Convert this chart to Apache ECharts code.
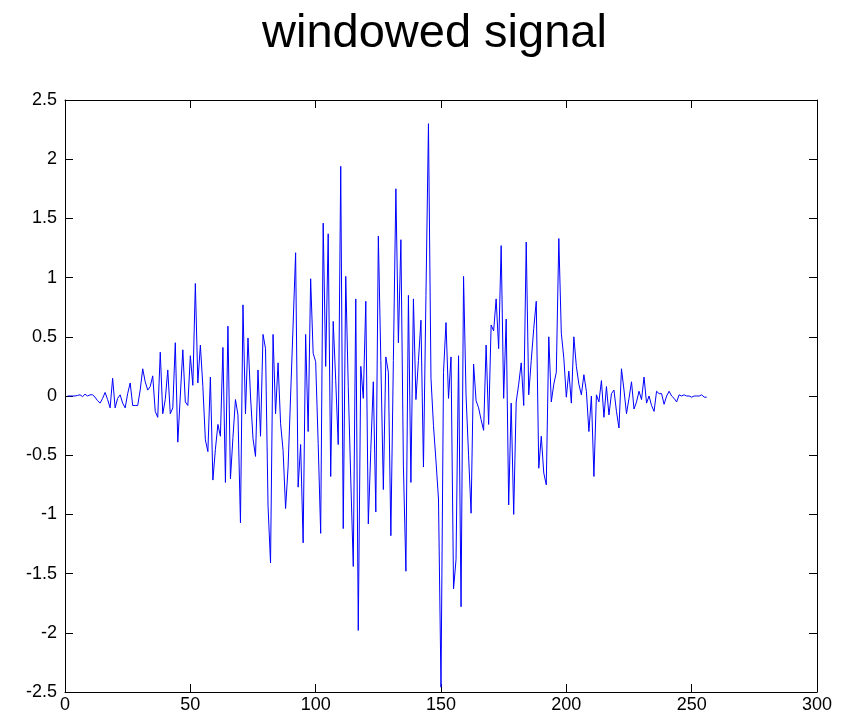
<!DOCTYPE html>
<html>
<head>
<meta charset="utf-8">
<script src="https://cdn.jsdelivr.net/npm/echarts@6/dist/echarts.min.js"></script>
<style>html,body{margin:0;padding:0;background:#fff}#c{width:852px;height:723px}</style>
</head>
<body>
<div id="c"></div>
<script>
const titleText = "windowed signal";
const xTicks = [0, 50, 100, 150, 200, 250, 300];
const yTicks = [-2.5, -2, -1.5, -1, -0.5, 0, 0.5, 1, 1.5, 2, 2.5];
const signal = [
  0, 0, 0, 0, 0.005, 0.01, -0.005, 0.015, 0, 0.01,
  0.01, -0.01, -0.04, -0.06, -0.02, 0.03, -0.03, -0.1, 0.15, -0.1,
  -0.02, 0.01, -0.06, -0.1, 0.02, 0.11, -0.08, -0.08, -0.08, 0.05,
  0.23, 0.12, 0.05, 0.08, 0.17, -0.13, -0.18, 0.37, -0.15, -0.03,
  0.22, -0.15, -0.1, 0.45, -0.39, 0.0, 0.39, -0.05, -0.08, 0.34,
  0.09, 0.95, 0.11, 0.43, 0.08, -0.37, -0.47, 0.16, -0.71, -0.45,
  -0.24, -0.34, 0.41, -0.73, 0.59, -0.7, -0.35, -0.03, -0.16, -1.07,
  0.77, -0.15, 0.49, 0.0, -0.36, -0.51, 0.22, -0.34, 0.52, 0.4,
  -0.93, -1.41, 0.52, -0.15, 0.28, -0.23, -0.46, -0.95, -0.6, 0.0,
  0.6, 1.21, -0.77, -0.41, -1.24, 0.52, -0.3, 0.99, 0.36, 0.29,
  -0.4, -1.16, 1.46, 0.25, 1.37, -0.68, 0.63, 0.13, -0.41, 1.94,
  -1.12, 1.01, 0.08, -0.7, -1.44, 0.82, -1.98, 0.25, -0.02, 0.8,
  -1.08, -0.45, 0.12, -0.98, 1.35, 0.3, -0.79, 0.33, 0.2, -1.18,
  0.3, 1.75, 0.45, 1.32, -0.59, -1.48, 0.85, -0.73, 0.82, -0.03,
  0.3, 0.64, -0.6, 0.85, 2.3, 0.15, -0.25, -0.55, -0.87, -2.46,
  0.2, 0.62, -0.02, 0.33, -1.63, -1.38, 0.34, -1.78, 1.01, 0.0,
  -0.5, -0.99, 0.27, -0.04, -0.1, -0.2, -0.29, 0.43, -0.24, 0.6,
  0.55, 0.82, 0.4, 1.27, -0.02, 0.65, -0.92, -0.06, -1.0, -0.05,
  0.1, 0.28, -0.08, 1.3, 0.01, 0.3, 0.57, 0.8, -0.61, -0.34,
  -0.65, -0.75, 0.5, -0.05, 0.1, 0.2, 1.33, 0.53, 0.32, -0.01,
  0.21, -0.06, 0.5, 0.25, 0.1, 0.01, 0.18, 0.04, -0.3, 0.0,
  -0.68, 0.01, -0.05, 0.13, -0.18, 0.08, -0.16, 0.02, 0.05, -0.13,
  -0.27, 0.23, 0.05, -0.15, -0.02, 0.12, -0.11, -0.05, 0.04, -0.03,
  0.16, -0.06, 0.0, -0.08, -0.13, 0.04, 0.02, 0.02, -0.07, 0.0,
  0.04, 0.0, -0.02, -0.05, 0.01, 0.0, 0.01, 0.0, 0.0, -0.01,
  0.0, 0.0, 0.0, 0.01, -0.01, -0.01
];

const points = signal.map((v, i) => [i + 1, v]);
const font = 'Liberation Sans, Arial, sans-serif';
const fmtY = v => String(v);

const chart = echarts.init(document.getElementById('c'), null, {renderer: 'canvas'});
function axis(extra) {
  return Object.assign({
    axisLine: {show: true, onZero: false, lineStyle: {color: '#000', width: 1}},
    axisTick: {show: true, inside: true, length: 8, lineStyle: {color: '#000', width: 1}},
    splitLine: {show: false}
  }, extra);
}
chart.setOption({
  animation: false,
  backgroundColor: '#fff',
  title: {
    text: titleText, left: 257, top: 6,
    textStyle: {fontFamily: font, fontSize: 47, fontWeight: 'normal', color: '#000'}
  },
  grid: {left: 65, right: 35, top: 100, bottom: 31, containLabel: false},
  xAxis: [
    axis({
      type: 'value', position: 'bottom', min: xTicks[0], max: xTicks[xTicks.length - 1], interval: 50,
      axisLabel: {fontFamily: font, fontSize: 18, color: '#000', margin: 4}
    }),
    axis({
      type: 'value', position: 'top', min: xTicks[0], max: xTicks[xTicks.length - 1], interval: 50,
      axisLabel: {show: false}
    })
  ],
  yAxis: [
    axis({
      type: 'value', position: 'left', min: yTicks[0], max: yTicks[yTicks.length - 1], interval: 0.5,
      axisLabel: {fontFamily: font, fontSize: 18, color: '#000', margin: 8, formatter: fmtY}
    }),
    axis({
      type: 'value', position: 'right', min: yTicks[0], max: yTicks[yTicks.length - 1], interval: 0.5,
      axisLabel: {show: false}
    })
  ],
  series: [{
    type: 'line', data: points, xAxisIndex: 0, yAxisIndex: 0,
    showSymbol: false, symbol: 'none',
    lineStyle: {color: '#0000ff', width: 1},
    clip: true
  }]
});
</script>
</body>
</html>
